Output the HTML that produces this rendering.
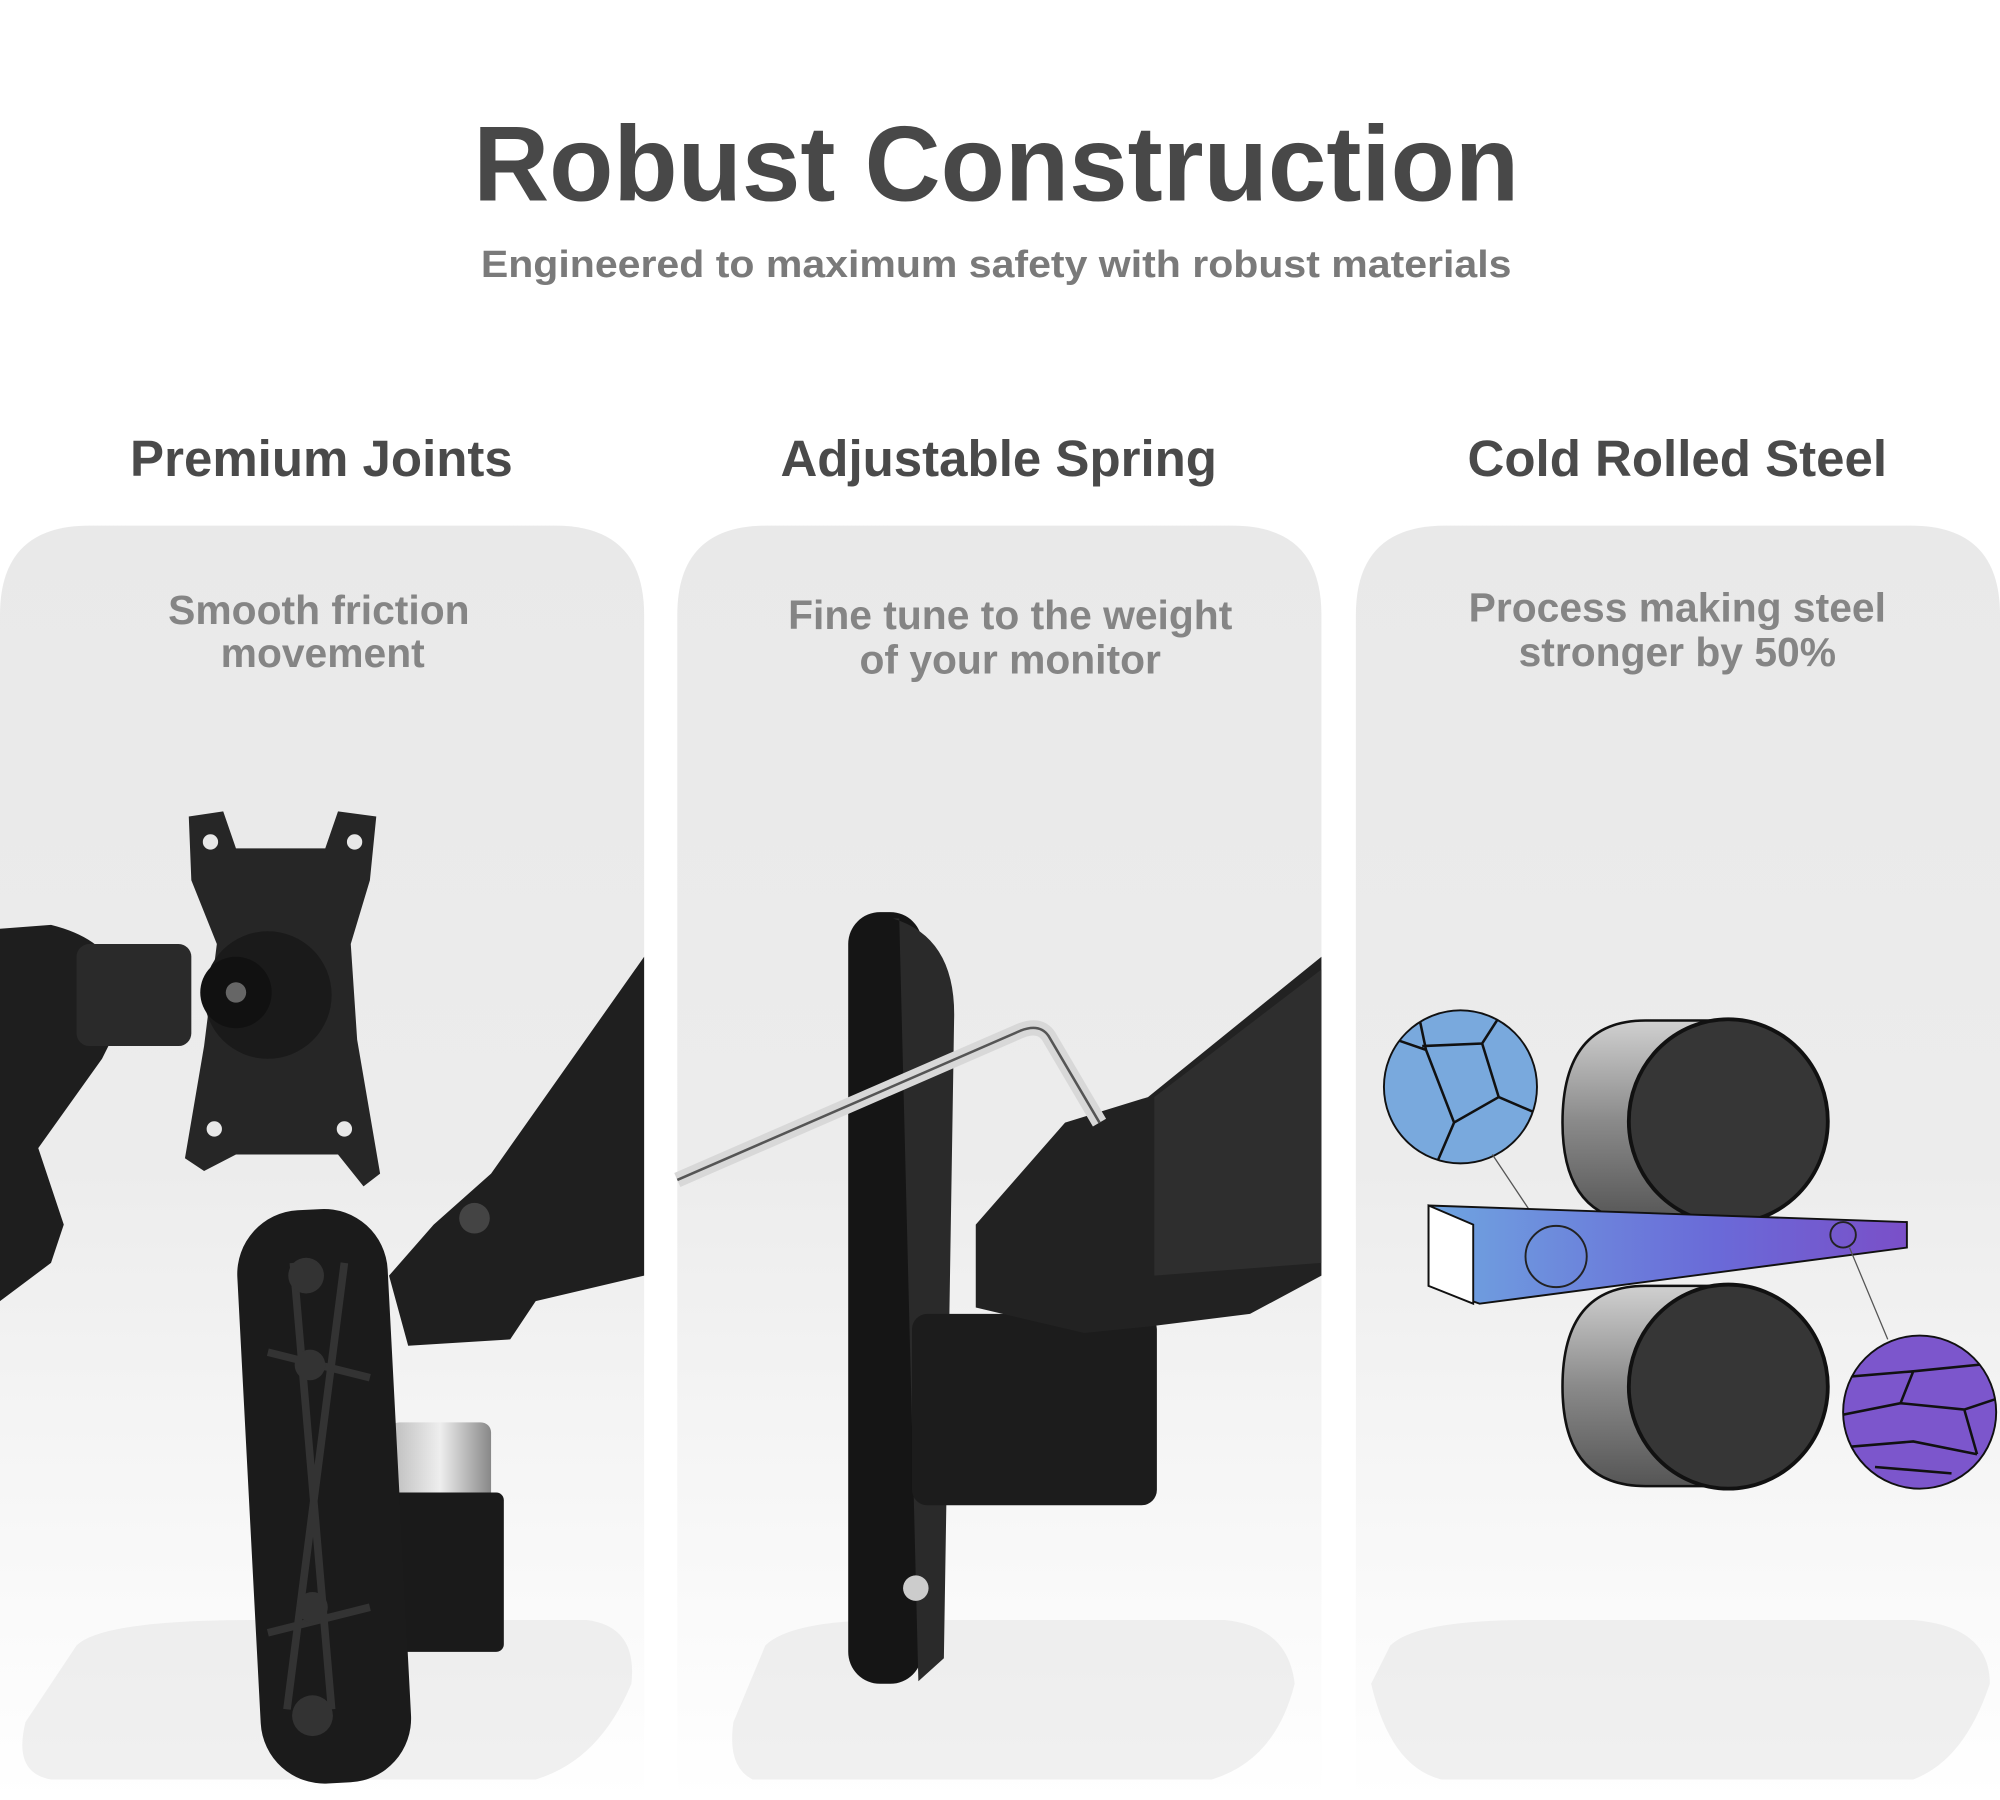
<!DOCTYPE html>
<html><head><meta charset="utf-8"><style>
html,body{margin:0;padding:0;background:#fff;}
svg{display:block}
</style></head><body>
<svg width="2000" height="1800" viewBox="0 0 1568 1411" xmlns="http://www.w3.org/2000/svg">
<defs>
<linearGradient id="cg" x1="0" y1="0" x2="0" y2="1">
<stop offset="0" stop-color="#e9e9e9"/><stop offset="0.5" stop-color="#ececec"/><stop offset="0.8" stop-color="#f8f8f8"/><stop offset="1" stop-color="#ffffff"/>
</linearGradient>
<linearGradient id="cyl" x1="0" y1="0" x2="0" y2="1"><stop offset="0" stop-color="#d0d0d0"/><stop offset="0.5" stop-color="#8a8a8a"/><stop offset="1" stop-color="#555"/></linearGradient>
<linearGradient id="bar" x1="0" y1="0" x2="1" y2="0"><stop offset="0" stop-color="#6fa5e0"/><stop offset="0.6" stop-color="#6a6ad8"/><stop offset="1" stop-color="#7a4fc8"/></linearGradient>
<linearGradient id="silver" x1="0" y1="0" x2="1" y2="0"><stop offset="0" stop-color="#bbb"/><stop offset="0.5" stop-color="#eee"/><stop offset="1" stop-color="#888"/></linearGradient>
<clipPath id="cb"><circle cx="1145" cy="852" r="60"/></clipPath>
<clipPath id="cp"><circle cx="1505" cy="1107" r="60"/></clipPath>
</defs>
<rect width="1568" height="1411" fill="#fff"/>
<text x="781" y="157" text-anchor="middle" font-family="Liberation Sans, sans-serif" font-weight="bold" font-size="84" fill="#484848" textLength="820" lengthAdjust="spacingAndGlyphs">Robust Construction</text>
<text x="781" y="217" text-anchor="middle" font-family="Liberation Sans, sans-serif" font-weight="bold" font-size="30" fill="#7a7a7a" textLength="808" lengthAdjust="spacingAndGlyphs">Engineered to maximum safety with robust materials</text>

<text x="252" y="373" text-anchor="middle" font-family="Liberation Sans, sans-serif" font-weight="bold" font-size="40" fill="#4a4a4a">Premium Joints</text>
<text x="783" y="373" text-anchor="middle" font-family="Liberation Sans, sans-serif" font-weight="bold" font-size="40" fill="#4a4a4a">Adjustable Spring</text>
<text x="1315" y="373" text-anchor="middle" font-family="Liberation Sans, sans-serif" font-weight="bold" font-size="40" fill="#4a4a4a">Cold Rolled Steel</text>

<path d="M0 482 Q0 412 70 412 L435 412 Q505 412 505 482 L505 1411 L0 1411Z" fill="url(#cg)"/>
<path d="M531 482 Q531 412 601 412 L966 412 Q1036 412 1036 482 L1036 1411 L531 1411Z" fill="url(#cg)"/>
<path d="M1063 482 Q1063 412 1133 412 L1498 412 Q1568 412 1568 482 L1568 1411 L1063 1411Z" fill="url(#cg)"/>

<g font-family="Liberation Sans, sans-serif" font-weight="bold" font-size="32" fill="#858585" text-anchor="middle">
<text x="250" y="489">Smooth friction</text><text x="253" y="523">movement</text>
<text x="792" y="493">Fine tune to the weight</text><text x="792" y="528">of your monitor</text>
<text x="1315" y="487">Process making steel</text><text x="1315" y="522">stronger by 50%</text>
</g>

<!-- floor shadows -->
<path d="M60 1290 Q80 1270 200 1270 L460 1270 Q500 1275 495 1320 Q470 1380 420 1395 L40 1395 Q10 1390 20 1350Z" fill="#e6e6e6" opacity="0.6"/>
<path d="M600 1290 Q620 1270 700 1270 L960 1270 Q1010 1275 1015 1320 Q1000 1380 950 1395 L590 1395 Q570 1385 575 1350Z" fill="#e6e6e6" opacity="0.6"/>
<path d="M1090 1290 Q1110 1270 1200 1270 L1500 1270 Q1560 1275 1560 1320 Q1540 1380 1500 1395 L1130 1395 Q1090 1385 1075 1320Z" fill="#e6e6e6" opacity="0.6"/>

<!-- card1 image -->
<path d="M0 728 L40 725 Q80 735 90 760 L95 800 L80 830 L30 900 L50 960 L40 990 L0 1020Z" fill="#1e1e1e"/>
<rect x="60" y="740" width="90" height="80" rx="10" fill="#2a2a2a"/>
<path d="M148 640 L175 636 L185 665 L255 665 L265 636 L295 640 L290 690 L275 740 L280 815 L298 920 L285 930 L265 905 L185 905 L160 918 L145 908 L160 820 L170 740 L150 690Z" fill="#262626"/>
<circle cx="210" cy="780" r="50" fill="#1a1a1a"/>
<circle cx="185" cy="778" r="28" fill="#111"/><circle cx="185" cy="778" r="8" fill="#666"/>
<g fill="#e8e8e8"><circle cx="165" cy="660" r="6"/><circle cx="278" cy="660" r="6"/><circle cx="168" cy="885" r="6"/><circle cx="270" cy="885" r="6"/></g>
<path d="M385 920 L505 750 L505 1000 L420 1020 L400 1050 L320 1055 L305 1000 L340 960Z" fill="#1f1f1f"/>
<circle cx="372" cy="955" r="12" fill="#444"/>
<rect x="305" y="1115" width="80" height="70" rx="8" fill="url(#silver)"/>
<rect x="300" y="1170" width="95" height="125" rx="6" fill="#1a1a1a"/>
<rect x="195" y="948" width="118" height="450" rx="50" fill="#1b1b1b" transform="rotate(-3 254 1170)"/>
<path d="M230 990 L260 1340 M270 990 L225 1340 M210 1060 L290 1080 M210 1280 L290 1260" stroke="#333" stroke-width="6"/>
<g fill="#333"><circle cx="240" cy="1000" r="14"/><circle cx="243" cy="1070" r="12"/><circle cx="245" cy="1260" r="12"/><circle cx="245" cy="1345" r="16"/></g>

<!-- card2 image -->
<rect x="665" y="715" width="58" height="605" rx="25" fill="#151515"/>
<path d="M700 720 Q750 735 748 800 L740 1300 L720 1318 L705 720Z" fill="#2a2a2a"/>
<circle cx="718" cy="1245" r="10" fill="#ccc"/>
<rect x="715" y="1030" width="192" height="150" rx="12" fill="#1c1c1c"/>
<path d="M765 1025 L765 960 L835 880 L900 860 L1036 750 L1036 1000 L980 1030 L900 1040 L850 1045Z" fill="#222"/>
<path d="M905 860 L1036 760 L1036 990 L905 1000Z" fill="#2e2e2e"/>
<path d="M531 925 L800 808 Q815 802 822 812 L862 880" fill="none" stroke="#d8d8d8" stroke-width="12" stroke-linejoin="round"/>
<path d="M531 925 L800 808 Q815 802 822 812 L862 880" fill="none" stroke="#555" stroke-width="2"/>

<!-- card3 image -->
<circle cx="1145" cy="852" r="60" fill="#79a9dd"/>
<g clip-path="url(#cb)">
<path d="M1115 820 L1162 818 L1180 790 M1162 818 L1175 860 L1210 875 M1175 860 L1140 880 L1125 915 M1140 880 L1118 823 L1080 810 M1118 823 L1110 785 M1180 790 L1205 800 M1110 790 L1090 800" stroke="#111" stroke-width="2" fill="none"/>
</g>
<circle cx="1145" cy="852" r="60" fill="none" stroke="#111" stroke-width="1.5"/>
<line x1="1170" y1="905" x2="1210" y2="965" stroke="#555" stroke-width="1"/>
<path d="M1290 800 L1355 800 L1355 958 L1290 958 Q1225 958 1225 880 Q1225 800 1290 800Z" fill="url(#cyl)" stroke="#111" stroke-width="2"/>
<ellipse cx="1355" cy="879" rx="78" ry="80" fill="#363636" stroke="#111" stroke-width="3"/>
<path d="M1120 945 L1495 958 L1495 978 L1160 1022 L1120 1008Z" fill="url(#bar)" stroke="#111" stroke-width="1.5"/>
<path d="M1120 945 L1155 960 L1155 1022 L1120 1008Z" fill="#fff" stroke="#111" stroke-width="1.5"/>
<circle cx="1220" cy="985" r="24" fill="none" stroke="#222" stroke-width="1.5"/>
<circle cx="1445" cy="968" r="10" fill="none" stroke="#222" stroke-width="1.5"/>
<path d="M1290 1008 L1355 1008 L1355 1165 L1290 1165 Q1225 1165 1225 1087 Q1225 1008 1290 1008Z" fill="url(#cyl)" stroke="#111" stroke-width="2"/>
<ellipse cx="1355" cy="1087" rx="78" ry="80" fill="#363636" stroke="#111" stroke-width="3"/>
<line x1="1450" y1="978" x2="1480" y2="1050" stroke="#555" stroke-width="1"/>
<circle cx="1505" cy="1107" r="60" fill="#7c56cc"/>
<g clip-path="url(#cp)">
<path d="M1440 1080 L1500 1075 L1570 1068 M1440 1110 L1490 1100 L1540 1105 L1570 1095 M1440 1135 L1500 1130 L1550 1140 M1500 1075 L1490 1100 M1540 1105 L1550 1140 M1470 1150 L1530 1155" stroke="#111" stroke-width="2" fill="none"/>
</g>
<circle cx="1505" cy="1107" r="60" fill="none" stroke="#111" stroke-width="1.5"/>
</svg>
</body></html>
